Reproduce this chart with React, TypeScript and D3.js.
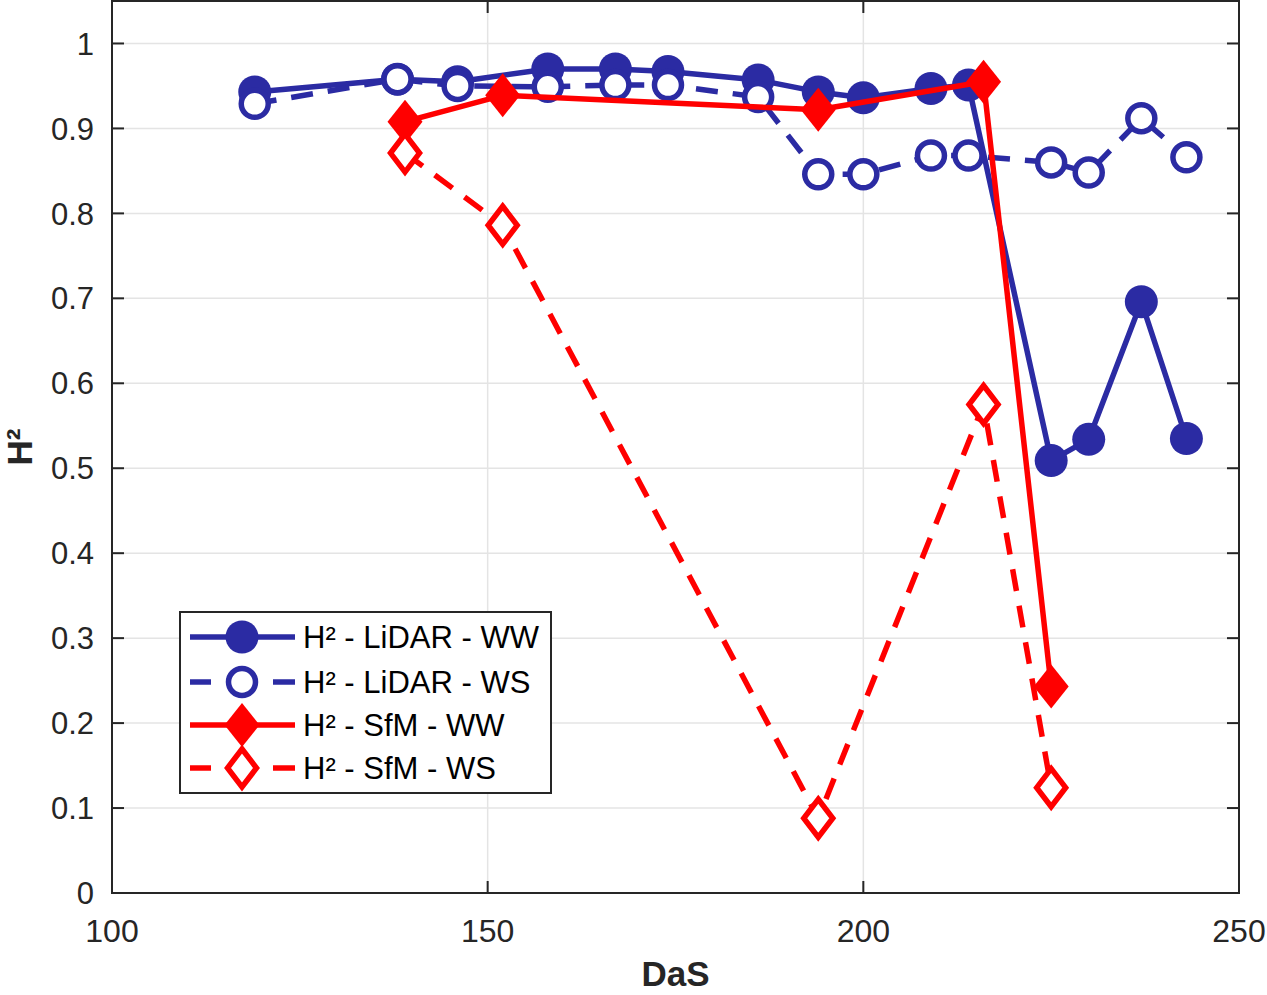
import * as d3 from 'd3';

// DaS values for each series
const dasLidar = [119, 138, 146, 158, 167, 174, 186, 194, 200, 209, 214, 225, 230, 237, 243];
const lidarWW = [0.943, 0.958, 0.955, 0.970, 0.970, 0.967, 0.957, 0.943, 0.936, 0.947, 0.951, 0.509, 0.534, 0.696, 0.535];
const lidarWS = [0.929, 0.958, 0.950, 0.949, 0.951, 0.951, 0.937, 0.846, 0.846, 0.868, 0.868, 0.860, 0.848, 0.912, 0.866];

const dasSfm = [139, 152, 194, 216, 225];
const sfmWW = [0.908, 0.939, 0.922, 0.955, 0.243];
const sfmWS = [0.871, 0.786, 0.088, 0.575, 0.124];

const xTicks = [100, 150, 200, 250];
const yTicks = [0, 0.1, 0.2, 0.3, 0.4, 0.5, 0.6, 0.7, 0.8, 0.9, 1];

const legendLabels = ['H² - LiDAR - WW', 'H² - LiDAR - WS', 'H² - SfM - WW', 'H² - SfM - WS'];

const BLUE = '#2b2ba3';
const RED = '#ff0000';
const AXIS = '#262626';
const FONT = '"Liberation Sans", Arial, Helvetica, sans-serif';

const width = 1267;
const height = 995;
const plot = { left: 112, right: 1239, top: 1, bottom: 893 };

const x = d3.scaleLinear().domain([100, 250]).range([plot.left, plot.right]);
const y = d3.scaleLinear().domain([0, 1.05]).range([plot.bottom, plot.top]);

type Pt = [number, number];
const zip = (xs: number[], ys: number[]): Pt[] => xs.map((v, i) => [v, ys[i]]);

const line = d3.line<Pt>().x(d => x(d[0])).y(d => y(d[1]));

const DASH = '22,15';
const LW = 5.5;

const Marker = ({ kind, cx, cy, color }: { kind: string; cx: number; cy: number; color: string }) => {
  if (kind === 'dot') return <circle cx={cx} cy={cy} r={16.5} fill={color} />;
  if (kind === 'ring')
    return <circle cx={cx} cy={cy} r={13.5} fill="#fff" stroke={color} strokeWidth={5.5} />;
  if (kind === 'diamond')
    return (
      <path
        d={`M${cx},${cy - 22}L${cx + 17.5},${cy}L${cx},${cy + 22}L${cx - 17.5},${cy}Z`}
        fill={color}
      />
    );
  return (
    <path
      d={`M${cx},${cy - 19}L${cx + 14.5},${cy}L${cx},${cy + 19}L${cx - 14.5},${cy}Z`}
      fill="#fff"
      stroke={color}
      strokeWidth={5.5}
      strokeLinejoin="miter"
    />
  );
};

const series = [
  { pts: zip(dasLidar, lidarWW), color: BLUE, dashed: false, kind: 'dot' },
  { pts: zip(dasLidar, lidarWS), color: BLUE, dashed: true, kind: 'ring' },
  { pts: zip(dasSfm, sfmWW), color: RED, dashed: false, kind: 'diamond' },
  { pts: zip(dasSfm, sfmWS), color: RED, dashed: true, kind: 'open-diamond' },
];

export default function App() {
  const legend = { x: 180, y: 612, w: 371, h: 181 };
  const rowY = [637, 682, 725, 768];

  return (
    <svg
      width={width}
      height={height}
      style={{ position: 'absolute', left: 0, top: 0, background: '#fff' }}
      fontFamily={FONT}
    >
      <rect width={width} height={height} fill="#fff" />

      {/* grid */}
      {xTicks.map(t => (
        <line key={'gx' + t} x1={x(t)} x2={x(t)} y1={plot.top} y2={plot.bottom} stroke="#e4e4e4" strokeWidth={1.5} />
      ))}
      {yTicks.map(t => (
        <line key={'gy' + t} x1={plot.left} x2={plot.right} y1={y(t)} y2={y(t)} stroke="#e4e4e4" strokeWidth={1.5} />
      ))}

      {/* series */}
      {series.map((s, i) => (
        <g key={i}>
          <path
            d={line(s.pts) || ''}
            fill="none"
            stroke={s.color}
            strokeWidth={LW}
            strokeDasharray={s.dashed ? DASH : undefined}
            strokeLinejoin="round"
          />
          {s.pts.map((p, j) => (
            <Marker key={j} kind={s.kind} cx={x(p[0])} cy={y(p[1])} color={s.color} />
          ))}
        </g>
      ))}

      {/* axes box */}
      <rect
        x={plot.left}
        y={plot.top}
        width={plot.right - plot.left}
        height={plot.bottom - plot.top}
        fill="none"
        stroke={AXIS}
        strokeWidth={2}
      />
      {xTicks.map(t => (
        <g key={'tx' + t}>
          <line x1={x(t)} x2={x(t)} y1={plot.bottom} y2={plot.bottom - 12} stroke={AXIS} strokeWidth={2} />
          <line x1={x(t)} x2={x(t)} y1={plot.top} y2={plot.top + 12} stroke={AXIS} strokeWidth={2} />
          <text x={x(t)} y={942} textAnchor="middle" fontSize={32} fill={AXIS}>
            {t}
          </text>
        </g>
      ))}
      {yTicks.map(t => (
        <g key={'ty' + t}>
          <line x1={plot.left} x2={plot.left + 12} y1={y(t)} y2={y(t)} stroke={AXIS} strokeWidth={2} />
          <line x1={plot.right} x2={plot.right - 12} y1={y(t)} y2={y(t)} stroke={AXIS} strokeWidth={2} />
          <text x={94} y={y(t)} dy="0.36em" textAnchor="end" fontSize={31} fill={AXIS}>
            {d3.format('~g')(t)}
          </text>
        </g>
      ))}

      {/* axis titles */}
      <text x={(plot.left + plot.right) / 2} y={986} textAnchor="middle" fontSize={35} fontWeight="bold" fill={AXIS}>
        DaS
      </text>
      <text
        transform={`translate(32,${(plot.top + plot.bottom) / 2}) rotate(-90)`}
        textAnchor="middle"
        fontSize={35}
        fontWeight="bold"
        fill={AXIS}
      >
        H²
      </text>

      {/* legend */}
      <rect x={legend.x} y={legend.y} width={legend.w} height={legend.h} fill="#fff" stroke={AXIS} strokeWidth={2} />
      {series.map((s, i) => (
        <g key={'lg' + i}>
          {s.dashed ? (
            <>
              <line x1={190} x2={211} y1={rowY[i]} y2={rowY[i]} stroke={s.color} strokeWidth={LW} />
              <line x1={273} x2={295} y1={rowY[i]} y2={rowY[i]} stroke={s.color} strokeWidth={LW} />
            </>
          ) : (
            <line x1={190} x2={295} y1={rowY[i]} y2={rowY[i]} stroke={s.color} strokeWidth={LW} />
          )}
          <Marker kind={s.kind} cx={242} cy={rowY[i]} color={s.color} />
          <text x={303} y={rowY[i]} dy="0.36em" fontSize={31} fill="#000">
            {legendLabels[i]}
          </text>
        </g>
      ))}
    </svg>
  );
}
